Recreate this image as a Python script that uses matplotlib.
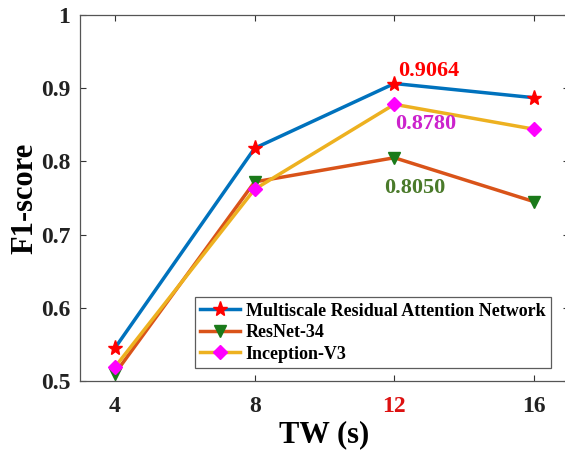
import matplotlib
matplotlib.use("Agg")
import matplotlib.pyplot as plt

tw = [4, 8, 12, 16]
mran = [0.545, 0.818, 0.9064, 0.887]
resnet = [0.510, 0.772, 0.8050, 0.745]
incep = [0.519, 0.762, 0.8780, 0.844]
names = ["Multiscale Residual Attention Network", "ResNet-34", "Inception-V3"]
xticklabels = ["4", "8", "12", "16"]
yticks = [0.5, 0.6, 0.7, 0.8, 0.9, 1.0]
yticklabels = ["0.5", "0.6", "0.7", "0.8", "0.9", "1"]

plt.rcParams['font.family'] = ['Liberation Serif', 'DejaVu Serif']
plt.rcParams['font.weight'] = 'bold'

fig = plt.figure(figsize=(5.65, 4.53), dpi=100)
ax = fig.add_axes([80/565, 1-381/453, (569-80)/565, (381-15)/453])

ax.plot(tw, mran, color='#0072BD', lw=2.5, marker='*', ms=11, mfc='red', mec='red', label=names[0], zorder=3)
ax.plot(tw, resnet, color='#D95319', lw=2.5, marker='v', ms=8, mfc='#1a7a1a', mec='#1a7a1a', label=names[1], zorder=2)
ax.plot(tw, incep, color='#EDB120', lw=2.5, marker='D', ms=7, mfc='#ff00ff', mec='#ff00ff', label=names[2], zorder=2)

ax.text(12.1, 0.923, f"{mran[2]:.4f}", color='red', fontsize=16, fontweight='bold', ha='left', va='center')
ax.text(12.02, 0.851, f"{incep[2]:.4f}", color='#cc22cc', fontsize=16, fontweight='bold', ha='left', va='center')
ax.text(11.72, 0.764, f"{resnet[2]:.4f}", color='#4a7a2a', fontsize=16, fontweight='bold', ha='left', va='center')

ax.set_xlim(3, 17)
ax.set_ylim(0.5, 1.0)
ax.set_xticks(tw)
ax.set_xticklabels(xticklabels, fontsize=17, fontweight='bold')
ax.set_yticks(yticks)
ax.set_yticklabels(yticklabels, fontsize=17, fontweight='bold')
ax.tick_params(direction='in', top=True, right=True, length=4, width=0.8, colors='#333333', labelcolor='#222222')
ax.tick_params(axis='y', pad=7)
ax.tick_params(axis='x', pad=11)
ax.get_xticklabels()[2].set_color('#dd1111')
for s in ax.spines.values():
    s.set_color('#555555')
    s.set_linewidth(0.9)

ax.set_xlabel("TW (s)", fontsize=22, fontweight='bold', labelpad=2)
ax.set_ylabel("F1-score", fontsize=22, fontweight='bold', labelpad=1)

leg = ax.legend(loc='lower left', bbox_to_anchor=((195-80)/489, (381-368)/366), prop={'size': 13, 'weight': 'bold'},
                frameon=True, fancybox=False, edgecolor='#333333', handlelength=2.2, handletextpad=0.3,
                borderpad=0.3, labelspacing=0.25, borderaxespad=0)
leg.get_frame().set_linewidth(0.9)

fig.savefig("out.png", dpi=100)
